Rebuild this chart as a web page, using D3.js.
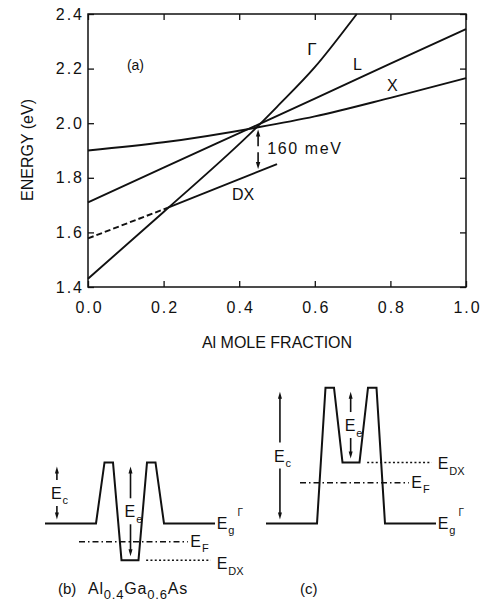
<!DOCTYPE html>
<html>
<head>
<meta charset="utf-8">
<script src="https://d3js.org/d3.v7.min.js"></script>
<style>
  body { margin: 0; background: #fff; }
  text { font-family: "Liberation Sans", Arial, sans-serif; fill: #111; }
</style>
</head>
<body>
<div id="container"></div>
<script>
// (a) band edges vs Al mole fraction
const gammaX = [0, 0.2, 0.45, 0.5, 0.6, 0.7, 0.711];
const gammaE = [1.43, 1.675, 1.99, 2.06, 2.205, 2.38, 2.4];
const lX = [0, 0.2, 0.45, 0.6, 0.8, 1.0];
const lE = [1.71, 1.837, 1.995, 2.09, 2.218, 2.345];
const xvX = [0, 0.2, 0.45, 0.6, 0.8, 1.0];
const xvE = [1.9, 1.93, 1.985, 2.025, 2.093, 2.165];
const dxDashX = [0, 0.21];
const dxDashE = [1.578, 1.69];
const dxX = [0.21, 0.5];
const dxE = [1.69, 1.85];
const gapAt = 0.45;
const gapE = [1.977, 1.832]; // 160 meV
const xTicks = [0, 0.2, 0.4, 0.6, 0.8, 1.0];
const yTicks = [1.4, 1.6, 1.8, 2.0, 2.2, 2.4];

// (b), (c) conduction band profiles: position 0-100, energy relative to Eg
const profX = [0, 30, 35, 40, 45, 55, 60, 65, 70, 100];
const profB = [0, 0, 0.45, 0.45, -0.27, -0.27, 0.45, 0.45, 0, 0];
const profC = [0, 0, 1, 1, 0.45, 0.45, 1, 1, 0, 0];
const efSpan = [20, 84];
const edxSpan = [59.5, 97.5];
const efB = -0.135, edxB = -0.27;
const efC = 0.30, edxC = 0.45;
const ecB = [7, 0, 0.45], eeB = [50.3, -0.27, 0.45];   // [pos, bottom, top]
const ecC = [8.2, 0, 1], eeC = [49.8, 0.45, 1];

const w = 484, h = 600;
const svg = d3.select("#container").append("svg")
  .attr("width", w).attr("height", h);

const x = d3.scaleLinear().domain([0, 1]).range([88, 466]);
const y = d3.scaleLinear().domain([1.4, 2.4]).range([287, 14]);

// frame
svg.append("rect")
  .attr("x", 88).attr("y", 14).attr("width", 378).attr("height", 273)
  .attr("fill", "none").attr("stroke", "#111").attr("stroke-width", 1.5);

const fmt = d3.format(".1f");
const bottom = svg.append("g").attr("transform", "translate(0,287)")
  .call(d3.axisBottom(x).tickValues(xTicks).tickFormat(fmt).tickSizeInner(-6).tickSizeOuter(0).tickPadding(15));
const left = svg.append("g").attr("transform", "translate(88,0)")
  .call(d3.axisLeft(y).tickValues(yTicks).tickFormat(fmt).tickSizeInner(-6).tickSizeOuter(0).tickPadding(4));
svg.append("g").attr("transform", "translate(0,14)")
  .call(d3.axisTop(x).tickValues(xTicks).tickFormat("").tickSizeInner(-6).tickSizeOuter(0));
svg.append("g").attr("transform", "translate(466,0)")
  .call(d3.axisRight(y).tickValues(yTicks).tickFormat("").tickSizeInner(-6).tickSizeOuter(0));
svg.selectAll(".domain").remove();
svg.selectAll(".tick line").attr("stroke", "#111").attr("stroke-width", 1.3);
svg.selectAll(".tick text")
  .style("font-family", "'Liberation Sans', Arial, sans-serif")
  .style("font-size", "16px").style("letter-spacing", "2px").attr("fill", "#111");
bottom.selectAll(".tick text").attr("dx", "1px");

svg.append("text").attr("transform", "translate(33,150) rotate(-90)")
  .attr("text-anchor", "middle").style("font-size", "16px").text("ENERGY (eV)");
svg.append("text").attr("x", 277).attr("y", 348)
  .attr("text-anchor", "middle").style("font-size", "16px").text("Al MOLE FRACTION");

const line = d3.line().x(d => x(d[0])).y(d => y(d[1])).curve(d3.curveMonotoneX);
const curve = (xs, es, dash) => svg.append("path")
  .attr("d", line(d3.zip(xs, es)))
  .attr("fill", "none").attr("stroke", "#111").attr("stroke-width", 1.9)
  .attr("stroke-dasharray", dash || null);
curve(gammaX, gammaE);
curve(lX, lE);
curve(xvX, xvE);
curve(dxDashX, dxDashE, "6,3");
curve(dxX, dxE);

function halfArrow(px, tipY, tailY, head) {
  const dir = tipY < tailY ? 1 : -1;
  svg.append("line").attr("x1", px).attr("x2", px)
    .attr("y1", tipY + dir * 4).attr("y2", tailY)
    .attr("stroke", "#111").attr("stroke-width", 1.6);
  svg.append("path")
    .attr("d", `M${px},${tipY}L${px - head},${tipY + dir * 7}L${px + head},${tipY + dir * 7}Z`)
    .attr("fill", "#111");
}

// 160 meV gap marker
const gx = x(gapAt), gTop = y(gapE[0]), gBot = y(gapE[1]);
const gMid = (gTop + gBot) / 2;
halfArrow(gx, gTop, gMid - 3, 2.2);
halfArrow(gx, gBot, gMid + 3, 2.2);

const label = (xv, ev, txt, size, ls) => svg.append("text")
  .attr("x", x(xv)).attr("y", y(ev))
  .style("font-size", size + "px").style("letter-spacing", (ls || 0) + "px").text(txt);
label(0.103, 2.194, "(a)", 14);
label(0.58, 2.249, "Γ", 17);
label(0.701, 2.194, "L", 16);
label(0.791, 2.118, "X", 16);
label(0.381, 1.718, "DX", 16);
label(0.474, 1.889, "160 meV", 16, 1.6);

// schematic panels
const eScale = d3.scaleLinear().domain([0, 1]).range([523.5, 387.7]);

function eLabel(px, py, sub, sup) {
  const t = svg.append("text").attr("x", px).attr("y", py).style("font-size", "16px");
  t.append("tspan").text("E");
  t.append("tspan").attr("dy", 5.5).attr("dx", 1).style("font-size", "11px").text(sub);
  if (sup) t.append("tspan").attr("dy", -18).attr("dx", 3).style("font-size", "10px").text(sup);
}

function panel(x0, prof, ef, edx, ec, ee, edxDrop) {
  const ps = d3.scaleLinear().domain([0, 100]).range([x0, x0 + 170]);
  const pl = d3.line().x(d => ps(d[0])).y(d => eScale(d[1]));
  svg.append("path").attr("d", pl(d3.zip(profX, prof)))
    .attr("fill", "none").attr("stroke", "#111").attr("stroke-width", 2)
    .attr("stroke-linejoin", "miter");
  svg.append("line")
    .attr("x1", ps(efSpan[0])).attr("x2", ps(efSpan[1]))
    .attr("y1", eScale(ef)).attr("y2", eScale(ef))
    .attr("stroke", "#111").attr("stroke-width", 1.5).attr("stroke-dasharray", "6,3,1.5,3");
  svg.append("line")
    .attr("x1", ps(edxSpan[0])).attr("x2", ps(edxSpan[1]))
    .attr("y1", eScale(edx)).attr("y2", eScale(edx))
    .attr("stroke", "#111").attr("stroke-width", 1.5).attr("stroke-dasharray", "2,2.3");

  [[ec, "c"], [ee, "e"]].forEach(([a, sub]) => {
    const ax = ps(a[0]);
    const top = eScale(a[2]) + 4, bot = eScale(a[1]) - 4;
    const mid = (top + bot) / 2;
    halfArrow(ax, top, mid - 13, 2);
    halfArrow(ax, bot, mid + 13, 2);
    eLabel(ax - 6, mid + 6, sub);
  });

  eLabel(ps(101), eScale(0) + 5, "g", "Γ");
  eLabel(ps(85.5), eScale(ef) + 5, "F");
  eLabel(ps(101), eScale(edx) + edxDrop, "DX");
}

panel(45, profB, efB, edxB, ecB, eeB, 9);
panel(266, profC, efC, edxC, ecC, eeC, 7);

// captions
svg.append("text").attr("x", 58).attr("y", 594).style("font-size", "15px").text("(b)");
const cap = svg.append("text").attr("x", 88).attr("y", 594)
  .style("font-size", "16px").style("letter-spacing", "0.8px");
cap.append("tspan").text("Al");
cap.append("tspan").attr("dy", 4.5).style("font-size", "13px").text("0.4");
cap.append("tspan").attr("dy", -4.5).text("Ga");
cap.append("tspan").attr("dy", 4.5).style("font-size", "13px").text("0.6");
cap.append("tspan").attr("dy", -4.5).text("As");
svg.append("text").attr("x", 300).attr("y", 594).style("font-size", "15px").text("(c)");
</script>
</body>
</html>
